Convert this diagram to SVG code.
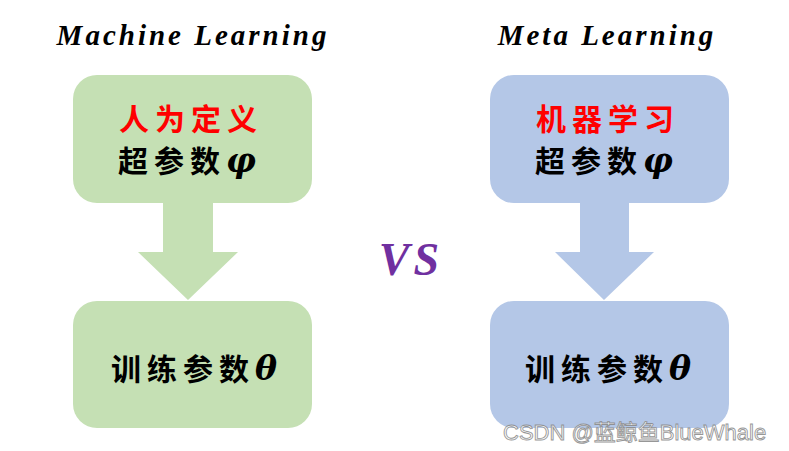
<svg xmlns="http://www.w3.org/2000/svg" width="789" height="451" viewBox="0 0 789 451">
<style>
.title{font-family:"Liberation Serif","DejaVu Serif",serif;font-weight:bold;font-style:italic;font-size:29px;letter-spacing:3px;fill:#000}
.cn{font-family:"Noto Sans CJK SC",sans-serif;font-weight:bold;font-size:30px;letter-spacing:6px;fill:#000}
.red{fill:#FF0000}
.green{fill:#C5E0B4}
.blue{fill:#B4C7E7}
.greek{font-family:"DejaVu Serif",serif;font-weight:bold;font-style:italic;font-size:33px}
.vs{font-family:"Liberation Serif",serif;font-weight:bold;font-style:italic;font-size:46px;letter-spacing:4px;fill:#7030A0}
.wm{font-family:"Liberation Sans","Noto Sans CJK SC",sans-serif;font-size:22px;fill:#FFFFFF;stroke:#8c8c8c;stroke-width:0.9;opacity:0.9}
</style>
<rect width="789" height="451" fill="#FFFFFF"/>
<text class="title" x="193" y="45" text-anchor="middle">Machine Learning</text>
<text class="title" x="607" y="45" text-anchor="middle">Meta Learning</text>
<g id="connectors">
<polygon class="green" points="163,202 213,202 213,252 238,252 188,300 138,252 163,252"/>
<polygon class="blue" points="580,202 629,202 629,252 654,252 604,300 555,252 580,252"/>
</g>
<g id="ml-hyper">
<rect class="green" x="73" y="75" width="239" height="128" rx="24"/>
<text class="cn red" x="119" y="130">人为定义</text>
<text class="cn" x="118" y="172">超参数<tspan class="greek">φ</tspan></text>
</g>
<g id="ml-train">
<rect class="green" x="73" y="301" width="239" height="127" rx="24"/>
<text class="cn" x="111" y="380" letter-spacing="4">训练参数<tspan class="greek">θ</tspan></text>
</g>
<g id="meta-hyper">
<rect class="blue" x="490" y="75" width="239" height="128" rx="24"/>
<text class="cn red" x="536" y="130">机器学习</text>
<text class="cn" x="535" y="172">超参数<tspan class="greek">φ</tspan></text>
</g>
<g id="meta-train">
<rect class="blue" x="490" y="301" width="239" height="127" rx="24"/>
<text class="cn" x="525" y="380" letter-spacing="4">训练参数<tspan class="greek">θ</tspan></text>
</g>
<text class="vs" x="411" y="275" text-anchor="middle">VS</text>
<text class="wm" x="503" y="440">CSDN @蓝鲸鱼BlueWhale</text>
</svg>
